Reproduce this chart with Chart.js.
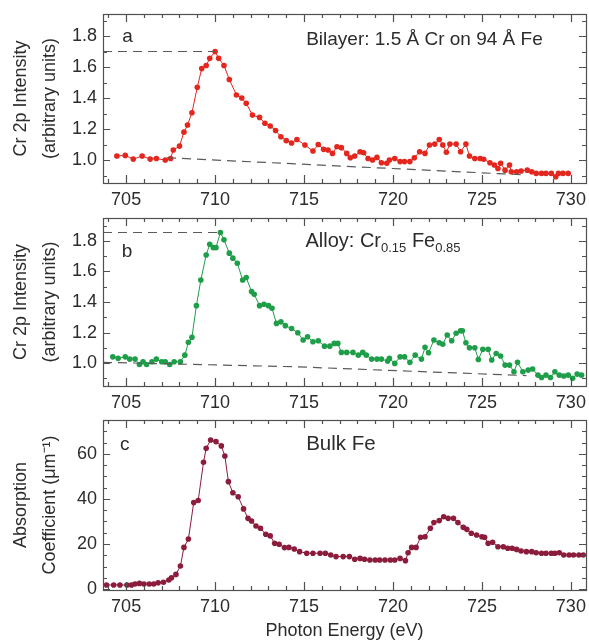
<!DOCTYPE html>
<html>
<head>
<meta charset="utf-8">
<script src="https://cdn.jsdelivr.net/npm/chart.js@4.4.1/dist/chart.umd.min.js"></script>
<style>
  html, body { margin: 0; padding: 0; background: #fff; }
  #wrap { position: relative; width: 589px; height: 643px; }
  .panel { position: absolute; left: 0; width: 589px; }
</style>
</head>
<body>
<div id="wrap">
  <div class="panel" style="top:0;height:210px"><canvas id="chartA"></canvas></div>
  <div class="panel" style="top:210px;height:203px"><canvas id="chartB"></canvas></div>
  <div class="panel" style="top:413px;height:230px"><canvas id="chartC"></canvas></div>
</div>
<script>
// ---- Tick labels ----
const energyTicks = [705, 710, 715, 720, 725, 730];
const intensityTicks = [1.0, 1.2, 1.4, 1.6, 1.8];
const absorptionTicks = [0, 20, 40, 60];

// ---- (a) Bilayer: 1.5 Å Cr on 94 Å Fe ----
const bilayerEnergy = [704.48,704.95,705.4,705.9,706.35,706.7,707.2,707.5,707.65,708.0,708.25,708.45,708.7,709.0,709.25,709.5,709.7,710.0,710.2,710.5,710.8,711.2,711.5,711.75,712.1,712.5,712.8,713.1,713.4,713.7,714.0,714.3,714.6,715.05,715.5,715.8,716.1,716.35,716.6,716.85,717.1,717.4,717.6,717.85,718.15,718.35,718.6,718.85,719.1,719.35,719.65,719.8,720.1,720.4,720.65,720.95,721.2,721.5,721.8,722.05,722.35,722.6,722.8,723.0,723.2,723.55,723.8,724.1,724.3,724.6,724.9,725.1,725.45,725.7,725.9,726.05,726.3,726.55,726.65,726.95,727.2,727.55,727.8,728.05,728.35,728.6,728.9,729.15,729.3,729.55,729.85];
const bilayerIntensity = [1.026,1.03,1.006,1.026,1.006,1.01,1.0,1.01,1.065,1.09,1.18,1.226,1.305,1.47,1.59,1.61,1.656,1.70,1.656,1.61,1.52,1.42,1.40,1.366,1.29,1.275,1.237,1.22,1.19,1.15,1.125,1.11,1.133,1.097,1.058,1.10,1.069,1.065,1.043,1.086,1.08,1.043,1.015,1.026,1.054,1.047,1.01,1.0,1.017,0.983,0.979,1.0,1.01,0.99,0.99,0.99,1.015,1.054,1.043,1.097,1.103,1.133,1.097,1.05,1.103,1.103,1.054,1.103,1.026,1.01,1.01,1.005,0.983,0.968,0.946,0.979,0.935,0.968,0.925,0.925,0.929,0.935,0.925,0.914,0.914,0.914,0.914,0.892,0.914,0.914,0.914];
const bilayerPeakEnergy = [703.7, 710.0];
const bilayerPeakLevel = [1.70, 1.70];
const bilayerBaseEnergy = [707.3, 727.3];
const bilayerBaseLevel = [1.015, 0.905];

// ---- (b) Alloy: Cr0.15 Fe0.85 ----
const alloyEnergy = [704.25,704.55,704.95,705.2,705.5,705.75,705.95,706.15,706.45,706.7,707.0,707.2,707.45,707.7,708.05,708.3,708.5,708.7,708.95,709.2,709.5,709.7,709.9,710.05,710.3,710.5,710.8,711.0,711.25,711.55,711.75,712.05,712.2,712.5,712.75,713.0,713.2,713.45,713.7,713.95,714.3,714.65,714.95,715.2,715.5,715.8,716.15,716.45,716.7,716.9,717.1,717.4,717.75,718.05,718.3,718.5,718.8,719.1,719.35,719.7,719.8,720.1,720.4,720.65,720.95,721.25,721.6,721.8,722.0,722.3,722.6,722.8,723.05,723.3,723.55,723.8,723.9,724.1,724.3,724.6,724.8,725.05,725.35,725.55,725.8,726.05,726.3,726.55,726.8,727.0,727.3,727.6,727.85,728.15,728.35,728.6,728.85,729.1,729.35,729.6,729.85,730.1,730.35,730.6];
const alloyIntensity = [1.041,1.031,1.041,1.026,1.026,0.991,1.009,0.991,1.009,1.026,1.009,1.009,0.991,1.009,1.009,1.052,1.136,1.169,1.376,1.544,1.708,1.778,1.756,1.756,1.855,1.807,1.72,1.687,1.654,1.544,1.56,1.468,1.45,1.376,1.385,1.376,1.359,1.26,1.27,1.245,1.226,1.199,1.151,1.172,1.14,1.146,1.111,1.111,1.129,1.129,1.07,1.07,1.07,1.052,1.07,1.052,1.026,1.026,1.026,1.013,1.031,0.998,1.041,1.041,1.005,1.052,1.026,1.103,1.068,1.151,1.133,1.123,1.184,1.146,1.195,1.212,1.212,1.133,1.10,1.10,1.024,1.09,1.09,1.02,1.063,1.046,0.987,0.987,0.943,1.005,0.943,0.954,0.961,0.921,0.906,0.921,0.906,0.943,0.921,0.915,0.921,0.90,0.928,0.921];
const alloyPeakEnergy = [703.7, 710.3];
const alloyPeakLevel = [1.855, 1.855];
const alloyBaseEnergy = [703.7, 714.5, 727.5];
const alloyBaseLevel = [1.005, 0.976, 0.918];

// ---- (c) Bulk Fe ----
const bulkEnergy = [703.9,704.3,704.65,705.05,705.3,705.5,705.75,706.0,706.3,706.55,706.8,707.1,707.4,707.55,707.8,708.05,708.25,708.5,708.8,709.05,709.35,709.5,709.75,710.05,710.35,710.55,710.75,711.0,711.3,711.6,711.85,712.05,712.3,712.55,712.85,713.1,713.35,713.6,713.9,714.15,714.45,714.75,715.15,715.5,715.9,716.2,716.5,716.8,717.2,717.55,717.85,718.15,718.4,718.7,719.0,719.25,719.55,719.85,720.1,720.4,720.7,720.85,721.05,721.3,721.55,721.8,722.1,722.3,722.6,722.85,723.1,723.4,723.65,723.95,724.15,724.4,724.7,725.0,725.15,725.35,725.6,725.9,726.2,726.45,726.7,726.95,727.2,727.5,727.8,728.05,728.35,728.6,728.9,729.1,729.35,729.6,729.9,730.15,730.45,730.7];
const bulkAbsorption = [1.8,1.8,1.8,1.8,1.8,2.2,2.5,2.2,2.2,2.2,2.8,3.0,4.0,5.0,6.5,10.2,18.5,22.2,38.4,39.3,56.3,62.5,66.2,65.5,63.6,59.1,47.7,42.8,41.0,35.6,31.4,30.2,28.0,27.0,24.3,23.6,20.3,19.9,18.4,18.5,17.8,16.6,15.9,15.9,15.9,15.9,15.1,14.4,14.4,14.4,13.2,13.6,13.2,12.9,12.9,12.9,12.9,12.9,12.9,13.6,12.6,16.1,18.5,18.5,23.0,23.2,27.0,29.5,30.4,32.1,31.4,31.4,29.5,27.4,26.5,24.8,24.0,23.2,23.0,20.3,20.8,18.8,18.8,18.1,18.1,17.6,16.9,16.6,16.6,16.1,15.9,15.9,15.9,15.9,16.1,15.1,15.1,15.1,15.1,15.1];

// ---- Styling ----
const FONT = '"Liberation Sans", Arial, Helvetica, sans-serif';
const TEXT = '#2c2c2c';
const FRAME = '#505050';
const DASH = '#5a5a5a';
const RED = '#e3261e';
const GREEN = '#1e9e48';
const MAROON = '#8c1c3c';

const pts = (xs, ys) => xs.map((v, i) => ({ x: v, y: ys[i] }));

// Box frame with inward ticks on all four sides
const frameTicks = {
  id: 'frameTicks',
  afterDatasetsDraw(chart, args, opts) {
    const { ctx, chartArea: a, scales: { x, y } } = chart;
    ctx.save();
    ctx.strokeStyle = FRAME;
    ctx.lineWidth = 1.2;
    ctx.beginPath();
    for (let v = Math.ceil(x.min); v <= x.max; v += 1) {
      const px = Math.round(x.getPixelForValue(v)) + 0.5;
      const len = v % 5 === 0 ? 8 : 4;
      ctx.moveTo(px, a.bottom); ctx.lineTo(px, a.bottom - len);
      ctx.moveTo(px, a.top); ctx.lineTo(px, a.top + len);
    }
    const step = opts.yMinor, major = opts.yMajor;
    for (let k = Math.ceil(y.min / step - 1e-9); k * step <= y.max + 1e-9; k++) {
      const v = k * step;
      const py = Math.round(y.getPixelForValue(v)) + 0.5;
      const isMajor = Math.abs(v / major - Math.round(v / major)) < 1e-6;
      const len = isMajor ? 7 : 4;
      ctx.moveTo(a.left, py); ctx.lineTo(a.left + len, py);
      ctx.moveTo(a.right, py); ctx.lineTo(a.right - len, py);
    }
    ctx.stroke();
    ctx.strokeRect(Math.round(a.left) + 0.5, Math.round(a.top) + 0.5,
                   Math.round(a.right - a.left), Math.round(a.bottom - a.top));
    ctx.restore();
  }
};

// In-plot labels (panel letter and sample description), placed in data units
const notes = {
  id: 'notes',
  afterDraw(chart, args, opts) {
    const { ctx, scales: { x, y } } = chart;
    ctx.save();
    ctx.fillStyle = TEXT;
    ctx.textBaseline = 'alphabetic';
    ctx.textAlign = 'left';
    for (const n of opts.items) {
      let px = x.getPixelForValue(n.x);
      const py = y.getPixelForValue(n.y);
      for (const seg of n.parts) {
        ctx.font = (seg.sub ? n.subSize : n.size) + 'px ' + FONT;
        ctx.fillText(seg.t, px, py + (seg.sub ? n.subDrop : 0));
        px += ctx.measureText(seg.t).width;
      }
    }
    ctx.restore();
  }
};

function series(data, color) {
  return {
    data, showLine: true, borderColor: color, borderWidth: 1,
    pointRadius: 2.8, pointBackgroundColor: color, pointBorderWidth: 0,
    pointHoverRadius: 0
  };
}
function dashed(data) {
  return {
    data, showLine: true, borderColor: DASH, borderWidth: 1.2,
    borderDash: [9, 6], pointRadius: 0
  };
}

function panel(id, cfg) {
  return new Chart(document.getElementById(id), {
    type: 'scatter',
    data: { datasets: cfg.datasets },
    plugins: [frameTicks, notes],
    options: {
      responsive: true, maintainAspectRatio: false, animation: false,
      devicePixelRatio: 1,
      layout: { padding: { top: cfg.padTop, right: 3, bottom: 0, left: 0 } },
      plugins: {
        legend: { display: false }, tooltip: { enabled: false },
        frameTicks: { yMinor: cfg.yMinor, yMajor: cfg.yMajor },
        notes: { items: cfg.notes }
      },
      scales: {
        x: {
          type: 'linear', min: 703.7, max: 730.85,
          grid: { display: false, drawTicks: false }, border: { display: false },
          afterBuildTicks: s => { s.ticks = energyTicks.map(v => ({ value: v })); },
          afterFit: s => { s.height = cfg.xHeight; s.paddingLeft = 0; s.paddingRight = 0; },
          ticks: { padding: 6, color: TEXT, font: { family: FONT, size: 18 }, maxRotation: 0,
                   callback: v => String(v) },
          title: cfg.xTitle ? {
            display: true, text: cfg.xTitle, color: TEXT,
            font: { family: FONT, size: 18 }, padding: { top: 0, bottom: 1 }
          } : { display: false }
        },
        y: {
          type: 'linear', min: cfg.yMin, max: cfg.yMax,
          grid: { display: false, drawTicks: false }, border: { display: false },
          afterBuildTicks: s => { s.ticks = cfg.yTicks.map(v => ({ value: v })); },
          afterFit: s => { s.width = 103; s.paddingTop = 0; s.paddingBottom = 0; },
          ticks: { padding: 6, color: TEXT, font: { family: FONT, size: 18 },
                   callback: v => v.toFixed(cfg.decimals) },
          title: {
            display: true, text: cfg.yTitle, color: TEXT,
            font: { family: FONT, size: 18, lineHeight: 29 / 18 },
            padding: { top: 7, bottom: 0 }
          }
        }
      }
    }
  });
}

panel('chartA', {
  padTop: 14, xHeight: 27, yMin: 0.852, yMax: 1.942, yTicks: intensityTicks,
  decimals: 1, yMinor: 0.1, yMajor: 0.2,
  yTitle: ['Cr 2p Intensity', '(arbitrary units)'],
  datasets: [
    dashed(pts(bilayerPeakEnergy, bilayerPeakLevel)),
    dashed(pts(bilayerBaseEnergy, bilayerBaseLevel)),
    series(pts(bilayerEnergy, bilayerIntensity), RED)
  ],
  notes: [
    { x: 704.78, y: 1.763, size: 19, parts: [{ t: 'a' }] },
    { x: 715.12, y: 1.742, size: 19, parts: [{ t: 'Bilayer: 1.5 Å Cr on 94 Å Fe' }] }
  ]
});

panel('chartB', {
  padTop: 8, xHeight: 27, yMin: 0.85, yMax: 1.95, yTicks: intensityTicks,
  decimals: 1, yMinor: 0.1, yMajor: 0.2,
  yTitle: ['Cr 2p Intensity', '(arbitrary units)'],
  datasets: [
    dashed(pts(alloyPeakEnergy, alloyPeakLevel)),
    dashed(pts(alloyBaseEnergy, alloyBaseLevel)),
    series(pts(alloyEnergy, alloyIntensity), GREEN)
  ],
  notes: [
    { x: 704.76, y: 1.697, size: 19, parts: [{ t: 'b' }] },
    { x: 715.08, y: 1.763, size: 20, subSize: 13, subDrop: 5,
      parts: [{ t: 'Alloy: Cr' }, { t: '0.15', sub: true }, { t: ' Fe' }, { t: '0.85', sub: true }] }
  ]
});

panel('chartC', {
  padTop: 7, xHeight: 53, yMin: -0.44, yMax: 75.1, yTicks: absorptionTicks,
  decimals: 0, yMinor: 5, yMajor: 20,
  yTitle: ['Absorption', 'Coefficient (μm⁻¹)'],
  xTitle: 'Photon Energy (eV)',
  datasets: [
    series(pts(bulkEnergy, bulkAbsorption), MAROON)
  ],
  notes: [
    { x: 704.66, y: 61.8, size: 19, parts: [{ t: 'c' }] },
    { x: 715.12, y: 61.8, size: 20.5, parts: [{ t: 'Bulk Fe' }] }
  ]
});
</script>
</body>
</html>
